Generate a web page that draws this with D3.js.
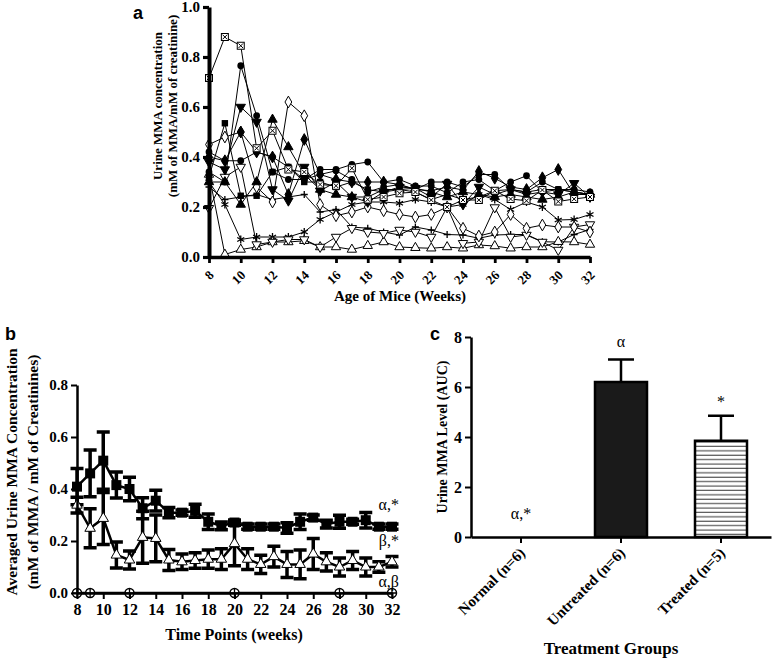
<!DOCTYPE html>
<html>
<head>
<meta charset="utf-8">
<script src="https://cdn.jsdelivr.net/npm/d3@7"></script>
<style>
  body { margin: 0; background: #fff; }
  svg text { font-family: "Liberation Serif", "Times New Roman", serif; fill: #000; }
</style>
</head>
<body>
<script>
// ---- data ----
const weeks = [8, 9, 10, 11, 12, 13, 14, 15, 16, 17, 18, 19, 20, 21, 22, 23, 24, 25, 26, 27, 28, 29, 30, 31, 32];
const weekTicks = [8, 10, 12, 14, 16, 18, 20, 22, 24, 26, 28, 30, 32];

// panel a - one line per mouse
const mouseBoxX     = [0.716, 0.88, 0.845, 0.435, 0.505, 0.35, 0.34, 0.29, 0.285, 0.355, 0.23, 0.24, 0.255, 0.26, 0.228, 0.20, 0.228, 0.228, 0.265, 0.232, 0.225, 0.268, 0.222, 0.232, 0.24];
const mouseCircleA  = [0.34, 0.30, 0.765, 0.565, 0.34, 0.31, 0.31, 0.35, 0.35, 0.37, 0.38, 0.30, 0.31, 0.284, 0.284, 0.257, 0.30, 0.31, 0.265, 0.30, 0.325, 0.26, 0.27, 0.26, 0.25];
const mouseCircleB  = [0.42, 0.385, 0.385, 0.42, 0.40, 0.36, 0.31, 0.33, 0.345, 0.31, 0.26, 0.28, 0.29, 0.27, 0.30, 0.30, 0.28, 0.33, 0.33, 0.27, 0.26, 0.30, 0.27, 0.27, 0.26];
const mouseDownTri  = [0.38, 0.35, 0.60, 0.54, 0.27, 0.225, 0.36, 0.265, 0.30, 0.24, 0.22, 0.26, 0.28, 0.275, 0.24, 0.292, 0.21, 0.28, 0.25, 0.27, 0.25, 0.26, 0.25, 0.295, 0.24];
const mouseDiamond  = [0.40, 0.385, 0.50, 0.42, 0.40, 0.25, 0.47, 0.33, 0.31, 0.30, 0.30, 0.30, 0.29, 0.27, 0.265, 0.28, 0.268, 0.342, 0.315, 0.28, 0.27, 0.317, 0.35, 0.25, 0.25];
const mouseUpTri    = [0.30, 0.30, 0.21, 0.30, 0.55, 0.44, 0.33, 0.27, 0.25, 0.24, 0.24, 0.27, 0.27, 0.275, 0.26, 0.24, 0.26, 0.25, 0.24, 0.25, 0.24, 0.23, 0.24, 0.26, 0.25];
const mouseSquare   = [0.32, 0.535, 0.245, 0.245, 0.34, 0.36, 0.30, 0.30, 0.28, 0.30, 0.27, 0.26, 0.27, 0.26, 0.23, 0.25, 0.23, 0.24, 0.265, 0.27, 0.26, 0.27, 0.27, 0.26, 0.25];
const mouseOpenDia  = [0.45, 0.48, 0.50, 0.28, 0.22, 0.62, 0.565, 0.21, 0.165, 0.18, 0.20, 0.185, 0.17, 0.16, 0.17, 0.20, 0.115, 0.084, 0.10, 0.17, 0.115, 0.128, 0.12, 0.12, 0.10];
const mouseOpenDTri = [0.195, 0.32, 0.36, 0.05, 0.06, 0.07, 0.07, 0.04, 0.08, 0.115, 0.10, 0.095, 0.108, 0.10, 0.08, 0.20, 0.055, 0.06, 0.198, 0.08, 0.088, 0.06, 0.028, 0.12, 0.13];
const mouseOpenTri  = [0.33, 0.01, 0.03, 0.04, 0.06, 0.06, 0.065, 0.04, 0.04, 0.03, 0.045, 0.06, 0.04, 0.037, 0.035, 0.04, 0.035, 0.048, 0.044, 0.035, 0.04, 0.04, 0.061, 0.06, 0.05];
const mouseStar     = [0.30, 0.21, 0.07, 0.08, 0.08, 0.08, 0.10, 0.15, 0.18, 0.21, 0.22, 0.22, 0.215, 0.23, 0.22, 0.20, 0.21, 0.25, 0.23, 0.19, 0.22, 0.20, 0.148, 0.15, 0.17];
const mousePlus     = [0.28, 0.23, 0.24, 0.25, 0.23, 0.24, 0.25, 0.18, 0.19, 0.12, 0.115, 0.10, 0.088, 0.12, 0.108, 0.09, 0.088, 0.075, 0.088, 0.09, 0.09, 0.061, 0.06, 0.09, 0.11];

// panel b - group means and SEM
const untreatedMean = [0.409, 0.46, 0.509, 0.415, 0.40, 0.326, 0.355, 0.309, 0.309, 0.316, 0.274, 0.258, 0.271, 0.255, 0.255, 0.255, 0.25, 0.274, 0.29, 0.265, 0.274, 0.274, 0.28, 0.255, 0.255];
const untreatedErr  = [0.07, 0.09, 0.11, 0.05, 0.045, 0.04, 0.04, 0.02, 0.01, 0.025, 0.03, 0.015, 0.01, 0.01, 0.01, 0.01, 0.02, 0.03, 0.01, 0.015, 0.025, 0.01, 0.03, 0.01, 0.01];
const treatedMean   = [0.338, 0.249, 0.287, 0.146, 0.127, 0.214, 0.21, 0.127, 0.12, 0.125, 0.13, 0.13, 0.19, 0.13, 0.11, 0.14, 0.11, 0.11, 0.15, 0.12, 0.10, 0.125, 0.10, 0.10, 0.12];
const treatedErr    = [0.03, 0.075, 0.1, 0.05, 0.035, 0.1, 0.09, 0.04, 0.03, 0.03, 0.035, 0.04, 0.085, 0.04, 0.035, 0.04, 0.05, 0.055, 0.06, 0.035, 0.035, 0.035, 0.035, 0.02, 0.02];
const normalMean    = [0, 0, 0, 0, 0, 0, 0, 0, 0, 0, 0, 0, 0, 0, 0, 0, 0, 0, 0, 0, 0, 0, 0, 0, 0];
const normalMarked  = [8, 9, 12, 20, 28, 32];
const groupNotesB   = ['α,*', 'β,*', 'α,β'];

// panel c - area under curve
const groups  = ['Normal (n=6)', 'Untreated (n=6)', 'Treated (n=5)'];
const aucMean = [0, 6.2, 3.85];
const aucErr  = [0, 0.9, 1.0];
const aucNote = ['α,*', 'α', '*'];

const miceSeries = [
  { marker: 'plus', values: mousePlus },
  { marker: 'star', values: mouseStar },
  { marker: 'otri', values: mouseOpenTri },
  { marker: 'odtri', values: mouseOpenDTri },
  { marker: 'odia', values: mouseOpenDia },
  { marker: 'square', values: mouseSquare },
  { marker: 'tri', values: mouseUpTri },
  { marker: 'dia', values: mouseDiamond },
  { marker: 'dtri', values: mouseDownTri },
  { marker: 'circle', values: mouseCircleB },
  { marker: 'circle', values: mouseCircleA },
  { marker: 'boxX', values: mouseBoxX }
];

const SERIF = '"Liberation Serif", "Times New Roman", serif';

const svg = d3.select('body').append('svg')
  .attr('width', 777)
  .attr('height', 662);

const defs = svg.append('defs');
const stripes = defs.append('pattern')
  .attr('id', 'stripes')
  .attr('patternUnits', 'userSpaceOnUse')
  .attr('width', 8)
  .attr('height', 4.4);
stripes.append('rect').attr('width', 8).attr('height', 4.4).attr('fill', '#fff');
stripes.append('line')
  .attr('x1', 0).attr('x2', 8).attr('y1', 2).attr('y2', 2)
  .attr('stroke', '#333').attr('stroke-width', 1);

// draws one marker at x,y
const drawMarker = (g, type, x, y) => {
  const m = g.append('g').attr('transform', `translate(${x},${y})`);
  const sym = (t, area) => d3.symbol().type(t).size(area)();
  if (type === 'boxX') {
    m.append('rect').attr('x', -3.5).attr('y', -3.5).attr('width', 7).attr('height', 7)
      .attr('fill', '#fff').attr('stroke', '#000').attr('stroke-width', 1);
    m.append('path').attr('d', 'M-2.3,-2.3L2.3,2.3M-2.3,2.3L2.3,-2.3')
      .attr('stroke', '#000').attr('stroke-width', 1);
  } else if (type === 'circle') {
    m.append('circle').attr('r', 3.4).attr('fill', '#000');
  } else if (type === 'square') {
    m.append('rect').attr('x', -3.2).attr('y', -3.2).attr('width', 6.4).attr('height', 6.4).attr('fill', '#000');
  } else if (type === 'tri' || type === 'otri') {
    m.append('path').attr('d', sym(d3.symbolTriangle, 38))
      .attr('fill', type === 'tri' ? '#000' : '#fff').attr('stroke', '#000').attr('stroke-width', 1);
  } else if (type === 'dtri' || type === 'odtri') {
    m.append('path').attr('d', sym(d3.symbolTriangle, 38)).attr('transform', 'rotate(180)')
      .attr('fill', type === 'dtri' ? '#000' : '#fff').attr('stroke', '#000').attr('stroke-width', 1);
  } else if (type === 'dia' || type === 'odia') {
    m.append('path').attr('d', sym(d3.symbolDiamond, 40))
      .attr('fill', type === 'dia' ? '#000' : '#fff').attr('stroke', '#000').attr('stroke-width', 1);
  } else if (type === 'star') {
    m.append('path').attr('d', 'M0,-4L0,4M-3.5,-2L3.5,2M-3.5,2L3.5,-2')
      .attr('stroke', '#000').attr('stroke-width', 1.3);
  } else if (type === 'plus') {
    m.append('path').attr('d', 'M0,-3.5L0,3.5M-3.5,0L3.5,0')
      .attr('stroke', '#000').attr('stroke-width', 1.3);
  }
};

const styleAxis = (g, w, size) => {
  g.select('.domain').attr('stroke-width', w);
  g.selectAll('.tick line').attr('stroke-width', w * 0.8);
  g.selectAll('.tick text')
    .style('font-family', SERIF)
    .style('font-size', size + 'px')
    .style('font-weight', 'bold')
    .style('fill', '#000');
};

const label = (x, y, t, size, opts) => {
  const o = opts || {};
  const el = svg.append('text')
    .attr('transform', o.rotate ? `translate(${x},${y}) rotate(-90)` : `translate(${x},${y})`)
    .attr('text-anchor', o.anchor || 'middle')
    .style('font-family', SERIF)
    .style('font-size', size + 'px')
    .style('font-weight', o.normal ? 'normal' : 'bold')
    .text(t);
  return el;
};

const panelLabel = (x, y, t) => svg.append('text')
  .attr('x', x).attr('y', y)
  .style('font-family', '"Liberation Sans", Arial, sans-serif')
  .style('font-weight', 'bold').style('font-size', '18px')
  .text(t);

// ================= panel a =================
const xA = d3.scaleLinear().domain([8, 32]).range([209, 590]);
const yA = d3.scaleLinear().domain([0, 1]).range([257, 7]);

const lineA = d3.line()
  .x((d, i) => xA(weeks[i]))
  .y((d) => yA(d));

const gA = svg.append('g');
miceSeries.forEach((s) => {
  gA.append('path').datum(s.values)
    .attr('d', lineA)
    .attr('fill', 'none').attr('stroke', '#000').attr('stroke-width', 1);
});
miceSeries.forEach((s) => {
  s.values.forEach((v, i) => drawMarker(gA, s.marker, xA(weeks[i]), yA(v)));
});

const axA = svg.append('g').attr('transform', 'translate(0,257)')
  .call(d3.axisBottom(xA).tickValues(weekTicks).tickSize(6).tickSizeOuter(0));
styleAxis(axA, 3.5, 13);
axA.selectAll('.tick text')
  .attr('y', 0).attr('dy', 0)
  .attr('text-anchor', 'end')
  .attr('transform', 'translate(5,19) rotate(-45)');

const ayA = svg.append('g').attr('transform', 'translate(209,0)')
  .call(d3.axisLeft(yA).tickValues([0, 0.2, 0.4, 0.6, 0.8, 1.0]).tickFormat(d3.format('.1f')).tickSize(6).tickSizeOuter(0));
styleAxis(ayA, 4, 15);

label(400, 301, 'Age of Mice (Weeks)', 15);
label(162, 106, 'Urine MMA concentration', 13, { rotate: true });
label(177, 106, '(mM of MMA/mM of creatinine)', 13, { rotate: true });
panelLabel(133, 19, 'a');

// ================= panel b =================
const xB = d3.scaleLinear().domain([8, 32]).range([77, 392]);
const yB = d3.scaleLinear().domain([0, 0.8]).range([593, 385]);

const lineB = d3.line()
  .x((d, i) => xB(weeks[i]))
  .y((d) => yB(d));

const gB = svg.append('g');

const drawGroup = (mean, err, marker) => {
  gB.append('path').datum(mean)
    .attr('d', lineB)
    .attr('fill', 'none').attr('stroke', '#000').attr('stroke-width', 2.5);
  mean.forEach((m, i) => {
    const x = xB(weeks[i]);
    const y0 = yB(m - err[i]);
    const y1 = yB(m + err[i]);
    gB.append('path')
      .attr('d', `M${x},${y0}L${x},${y1}M${x - 6.5},${y0}L${x + 6.5},${y0}M${x - 6.5},${y1}L${x + 6.5},${y1}`)
      .attr('stroke', '#000').attr('stroke-width', 3.5).attr('fill', 'none');
  });
  mean.forEach((m, i) => {
    const x = xB(weeks[i]);
    const y = yB(m);
    if (marker === 'square') {
      gB.append('rect').attr('x', x - 5).attr('y', y - 5).attr('width', 10).attr('height', 10).attr('fill', '#000');
    } else {
      gB.append('path').attr('transform', `translate(${x},${y})`)
        .attr('d', d3.symbol().type(d3.symbolTriangle).size(48)())
        .attr('fill', '#fff').attr('stroke', '#000').attr('stroke-width', 1);
    }
  });
};
drawGroup(untreatedMean, untreatedErr, 'square');
drawGroup(treatedMean, treatedErr, 'triangle');

gB.append('path').datum(normalMean)
  .attr('d', lineB)
  .attr('fill', 'none').attr('stroke', '#000').attr('stroke-width', 2.5);
normalMarked.forEach((w) => {
  const x = xB(w);
  const y = yB(0);
  gB.append('circle').attr('cx', x).attr('cy', y).attr('r', 4.5)
    .attr('fill', '#fff').attr('stroke', '#000').attr('stroke-width', 1.5);
  gB.append('path').attr('d', `M${x},${y - 4.5}L${x},${y + 4.5}M${x - 4.5},${y}L${x + 4.5},${y}`)
    .attr('stroke', '#000').attr('stroke-width', 1.3);
});

const axB = svg.append('g').attr('transform', 'translate(0,593)')
  .call(d3.axisBottom(xB).tickValues(weekTicks).tickSize(6).tickSizeOuter(0));
styleAxis(axB, 2.5, 16);
axB.selectAll('.tick text').attr('y', 11);

const ayB = svg.append('g').attr('transform', 'translate(77,0)')
  .call(d3.axisLeft(yB).tickValues([0, 0.2, 0.4, 0.6, 0.8]).tickFormat(d3.format('.1f')).tickSize(6).tickSizeOuter(0));
styleAxis(ayB, 2.5, 15);

const notesY = [510, 546, 587];
groupNotesB.forEach((t, i) => label(399, notesY[i], t, 16, { anchor: 'end', normal: true }));

label(234, 640, 'Time Points (weeks)', 16);
label(17, 472, 'Averaged Urine MMA Concentration', 15.5, { rotate: true });
label(38, 472, '(mM of MMA / mM of Creatinines)', 15.5, { rotate: true });
panelLabel(5, 340, 'b');

// ================= panel c =================
const xC = d3.scaleBand().domain(groups).range([471, 771]).paddingInner(0.48).paddingOuter(0.24);
const yC = d3.scaleLinear().domain([0, 8]).range([537, 337]);

const gC = svg.append('g');
groups.forEach((grp, i) => {
  const cx = xC(grp) + xC.bandwidth() / 2;
  if (aucErr[i] > 0) {
    const top = yC(aucMean[i] + aucErr[i]);
    gC.append('path')
      .attr('d', `M${cx},${yC(aucMean[i])}L${cx},${top}M${cx - 13},${top}L${cx + 13},${top}`)
      .attr('stroke', '#000').attr('stroke-width', 2.5).attr('fill', 'none');
  }
});
gC.selectAll('rect.bar')
  .data(groups)
  .enter()
  .append('rect')
  .attr('class', 'bar')
  .attr('x', (d) => xC(d))
  .attr('y', (d, i) => yC(aucMean[i]))
  .attr('width', xC.bandwidth())
  .attr('height', (d, i) => yC(0) - yC(aucMean[i]))
  .attr('fill', (d, i) => (i === 1 ? '#1a1a1a' : 'url(#stripes)'))
  .attr('stroke', '#000')
  .attr('stroke-width', (d, i) => (aucMean[i] > 0 ? 2.5 : 0));

const noteY = [519, 347, 0];
groups.forEach((grp, i) => {
  const cx = xC(grp) + xC.bandwidth() / 2;
  const y = i === 2 ? yC(aucMean[i] + aucErr[i]) - 9 : noteY[i];
  label(cx, y, aucNote[i], 16, { normal: true });
});

const axC = svg.append('g').attr('transform', 'translate(0,537)')
  .call(d3.axisBottom(xC).tickSize(6).tickSizeOuter(0));
styleAxis(axC, 2.5, 15);
axC.selectAll('.tick text')
  .attr('y', 0).attr('dy', 0)
  .attr('text-anchor', 'end')
  .attr('transform', 'translate(5,17) rotate(-45)');

const ayC = svg.append('g').attr('transform', 'translate(471,0)')
  .call(d3.axisLeft(yC).tickValues([0, 2, 4, 6, 8]).tickSize(6).tickSizeOuter(0));
styleAxis(ayC, 2.5, 16);

label(611, 654, 'Treatment Groups', 17);
label(447, 437, 'Urine MMA Level (AUC)', 14, { rotate: true });
panelLabel(430, 340, 'c');
</script>
</body>
</html>
